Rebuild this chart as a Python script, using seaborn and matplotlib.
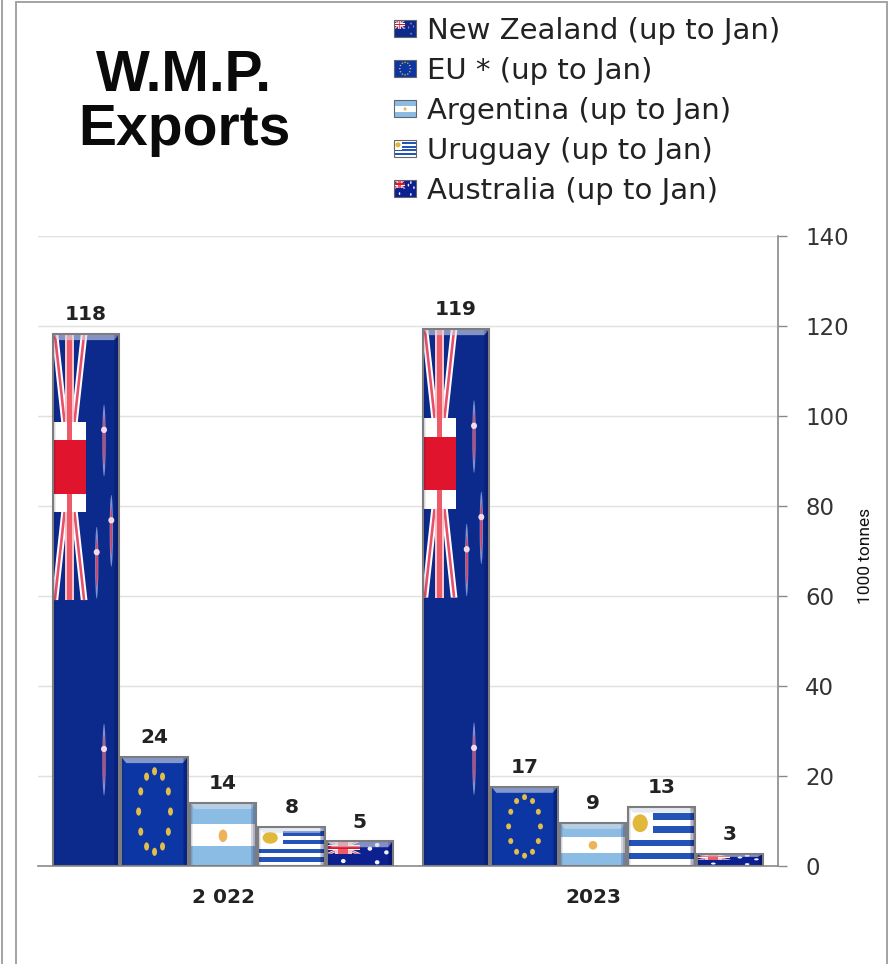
import matplotlib
matplotlib.use('Agg')
import matplotlib.pyplot as plt
import numpy as np
import pandas as pd
import seaborn as sns
from matplotlib.legend_handler import HandlerBase
from matplotlib.lines import Line2D
from matplotlib.patches import Ellipse, Patch, Polygon, Rectangle
from matplotlib.transforms import Affine2D

countries = ['New Zealand', 'EU', 'Argentina', 'Uruguay', 'Australia']
legend_labels = ['New Zealand (up to Jan)', 'EU * (up to Jan)', 'Argentina (up to Jan)',
                 'Uruguay (up to Jan)', 'Australia (up to Jan)']
years = ['2 022', '2023']
# bar heights
heights_2022 = [118.2, 24.2, 14.0, 8.7, 5.5]
heights_2023 = [119.3, 17.6, 9.6, 13.2, 2.7]
# printed labels do not always round from the heights
labels_2022 = ['118', '24', '14', '8', '5']
labels_2023 = ['119', '17', '9', '13', '3']
y_ticks = [0, 20, 40, 60, 80, 100, 120, 140]
base_colors = ['#0c2a8c', '#0c36a3', '#8bbde4', '#ffffff', '#0c2090']

RED = '#e0142c'
BLUE = '#0c2a8c'
YELLOW = '#e2bd4a'


def rect(x0, y0, x1, y1, color, trans, z):
    return Rectangle((x0, y0), x1 - x0, y1 - y0, fc=color, ec='none', transform=trans, zorder=z)


def strip(p0, p1, half, color, trans, z):
    # slanted band between two points, half is the width along x
    pts = [(p0[0] - half, p0[1]), (p0[0] + half, p0[1]), (p1[0] + half, p1[1]), (p1[0] - half, p1[1])]
    return Polygon(pts, closed=True, fc=color, ec='none', transform=trans, zorder=z)


def dot(x, y, w, h, color, trans, z):
    return Ellipse((x, y), w, h, fc=color, ec='none', transform=trans, zorder=z)


def jack(x0, x1, y0, y1, trans, z, narrow=False):
    cx = (x0 + x1) / 2
    cy = (y0 + y1) / 2
    w = x1 - x0
    h = y1 - y0
    arm = 0.17 * h
    band = 0.10 * h
    vert = 0.13 * w if narrow else 0.26 * w
    out = [rect(x0, y0, x1, y1, BLUE, trans, z)]
    for cornx in (x0 + 0.06 * w, x1 - 0.06 * w):
        for corny in (y0, y1):
            out.append(strip((cornx, corny), (cx, cy), 0.1 * w, '#ffffff', trans, z + 0.1))
            out.append(strip((cornx, corny), (cx, cy), 0.04 * w, '#e8506a', trans, z + 0.2))
    out.append(rect(cx - vert, y0, cx + vert, y1, '#f6c8cc', trans, z + 0.3))
    out.append(rect(x0, cy - arm, x1, cy + arm, '#ffffff', trans, z + 0.4))
    out.append(rect(cx - vert * 0.6, y0, cx + vert * 0.6, y1, '#ef5a68', trans, z + 0.5))
    out.append(rect(x0, cy - band, x1, cy + band, RED, trans, z + 0.6))
    return out


def flag_artists(kind, trans, z=3):
    # everything is in unit coordinates of the bar, so the flag stretches with it
    out = []
    if kind == 'New Zealand':
        out.append(rect(0, 0, 1, 1, BLUE, trans, z))
        out += jack(0, 0.5, 0.5, 1, trans, z + 0.1, narrow=True)
        for x, y in [(0.77, 0.82), (0.88, 0.65), (0.66, 0.59), (0.77, 0.22)]:
            out.append(dot(x, y - 0.02, 0.05, 0.135, '#7f8fd0', trans, z + 1))
            out.append(dot(x, y - 0.02, 0.03, 0.09, '#d8405f', trans, z + 1.1))
            out.append(dot(x, y, 0.09, 0.012, '#f7d8e4', trans, z + 1.2))
    elif kind == 'EU':
        out.append(rect(0, 0, 1, 1, '#0c36a3', trans, z))
        for ang in np.arange(12) * 30:
            x = 0.5 + 0.24 * np.cos(np.deg2rad(ang))
            y = 0.5 + 0.37 * np.sin(np.deg2rad(ang))
            out.append(dot(x, y, 0.075, 0.075, YELLOW, trans, z + 1))
    elif kind == 'Argentina':
        out.append(rect(0, 0, 1, 1, '#8bbde4', trans, z))
        out.append(rect(0, 0.31, 1, 0.66, '#ffffff', trans, z + 0.1))
        out.append(dot(0.5, 0.48, 0.13, 0.2, '#eeb35a', trans, z + 0.2))
    elif kind == 'Uruguay':
        out.append(rect(0, 0, 1, 1, '#ffffff', trans, z))
        for i in range(4):
            y1 = 1 - (2 * i + 1) / 9
            y0 = y1 - 1 / 9
            x0 = 0.38 if i < 2 else 0
            out.append(rect(x0, y0, 1, y1, '#2454b8', trans, z + 0.1))
        out.append(rect(0, 0.44, 0.38, 1, '#ffffff', trans, z + 0.15))
        out.append(dot(0.18, 0.72, 0.23, 0.3, '#e2b83a', trans, z + 0.2))
    elif kind == 'Australia':
        out.append(rect(0, 0, 1, 1, '#0c2090', trans, z))
        out += jack(0, 0.5, 0.5, 1, trans, z + 0.1)
        for x, y in [(0.25, 0.2), (0.65, 0.7), (0.76, 0.85), (0.9, 0.55), (0.76, 0.15)]:
            out.append(dot(x, y, 0.07, 0.17, '#f2f4ff', trans, z + 1))
    return out


class HandlerFlag(HandlerBase):
    def __init__(self, kind):
        super().__init__()
        self.kind = kind

    def create_artists(self, legend, orig_handle, xdescent, ydescent, width, height, fontsize, trans):
        t = Affine2D().scale(width, height).translate(-xdescent, -ydescent) + trans
        out = flag_artists(self.kind, t)
        out.append(Rectangle((0, 0), 1, 1, fc='none', ec='#666666', lw=0.8, transform=t, zorder=6))
        return out


def add_bevel(ax, bar, px_x, px_y):
    # edge shading so the bars look raised like the original
    x0, y0 = bar.get_xy()
    w, h = bar.get_width(), bar.get_height()
    x1, y1 = x0 + w, y0 + h
    dx = 5 * px_x
    dy = min(6 * px_y, h * 0.25)
    top = [(x0, y1), (x1, y1), (x1 - dx, y1 - dy), (x0 + dx, y1 - dy)]
    ax.add_patch(Polygon(top, closed=True, fc='#d5dbe6', ec='none', alpha=0.6, zorder=5))
    for i in range(3):
        d = dx * (i + 1) / 3
        ax.add_patch(Rectangle((x1 - d, y0), d, h, fc='#000040', ec='none', alpha=0.16, zorder=5))
        ax.add_patch(Rectangle((x0, y0), d * 0.6, h, fc='#000040', ec='none', alpha=0.08, zorder=5))
    ax.add_patch(Rectangle((x0, y0), w, h, fc='none', ec='#7d7d7d', lw=1.5, zorder=5.5))


df = pd.DataFrame({
    'year': [years[0]] * 5 + [years[1]] * 5,
    'country': countries * 2,
    'value': heights_2022 + heights_2023,
})

sns.set_theme(style='white')
plt.rcParams['font.family'] = ['DejaVu Sans']

W, H = 892, 964
fig = plt.figure(figsize=(W / 100, H / 100), dpi=100, facecolor='white')
ax = fig.add_axes([38 / W, 1 - 866 / H, 740 / W, 630 / H])

sns.barplot(data=df, x='year', y='value', hue='country', order=years, hue_order=countries,
            palette=base_colors, width=0.925, gap=0.03, saturation=1, legend=False, ax=ax)

ax.set_xlim(-0.5, 1.5)
ax.set_ylim(0, 140)
ax.set_xlabel('')
ax.set_ylabel('')
ax.set_axisbelow(True)
ax.yaxis.tick_right()
ax.set_yticks(y_ticks)
ax.yaxis.grid(True, color='#e0e0e0', lw=1)
ax.xaxis.grid(False)
ax.tick_params(axis='y', length=6.5, width=1, color='#8a8a8a', labelsize=16.5, labelcolor='#333333', pad=13)
ax.set_xticks([-0.5, 0.5, 1.5], minor=True)
ax.tick_params(axis='x', which='minor', length=6, width=1, color='#8a8a8a')
ax.tick_params(axis='x', which='major', length=0, pad=16)
for lab in ax.get_xticklabels():
    lab.set_fontsize(14.5)
    lab.set_fontweight('bold')
    lab.set_color('#222222')
for side in ['left', 'top']:
    ax.spines[side].set_visible(False)
for side in ['right', 'bottom']:
    ax.spines[side].set_visible(True)
    ax.spines[side].set_color('#8a8a8a')
    ax.spines[side].set_linewidth(1.2)

px_x = 2 / 740
px_y = 140 / 630
for i, (container, kind) in enumerate(zip(ax.containers, countries)):
    for bar in container:
        x0, y0 = bar.get_xy()
        t = Affine2D().scale(bar.get_width(), bar.get_height()).translate(x0, y0) + ax.transData
        for art in flag_artists(kind, t):
            ax.add_patch(art)
        add_bevel(ax, bar, px_x, px_y)
    ax.bar_label(container, labels=[labels_2022[i], labels_2023[i]], padding=7, fontsize=14.5,
                 fontweight='bold', color='#222222', zorder=7)

fig.text(865 / W, 1 - 556 / H, '1000 tonnes', rotation=90, ha='center', va='center',
         fontsize=12.5, family='Roboto', color='#111111')

fig.text(184 / W, 1 - 103 / H, 'W.M.P.\nExports', ha='center', va='center', fontsize=41,
         fontweight='bold', family='Liberation Sans', color='#0a0a0a', linespacing=1.0)

handles = [Patch(label=lab) for lab in legend_labels]
ax.legend(handles=handles, handler_map={h: HandlerFlag(k) for h, k in zip(handles, countries)},
          loc='upper left', bbox_to_anchor=(394 / W, 1 - 17 / H), bbox_transform=fig.transFigure,
          frameon=False, fontsize=21, labelcolor='#222222', handlelength=0.76, handleheight=0.52,
          handletextpad=0.38, labelspacing=0.41, borderpad=0, borderaxespad=0)

# page frame from the source screenshot
frame = [((1.5, 1.5), (0, H)), ((16, 16), (2, H)), ((16, 887), (2, 2)), ((887, 887), (2, H))]
for xs, ys in frame:
    fig.add_artist(Line2D([x / W for x in xs], [1 - y / H for y in ys], color='#a3a3a3', lw=1.4))

fig.savefig('out.png', dpi=100)
